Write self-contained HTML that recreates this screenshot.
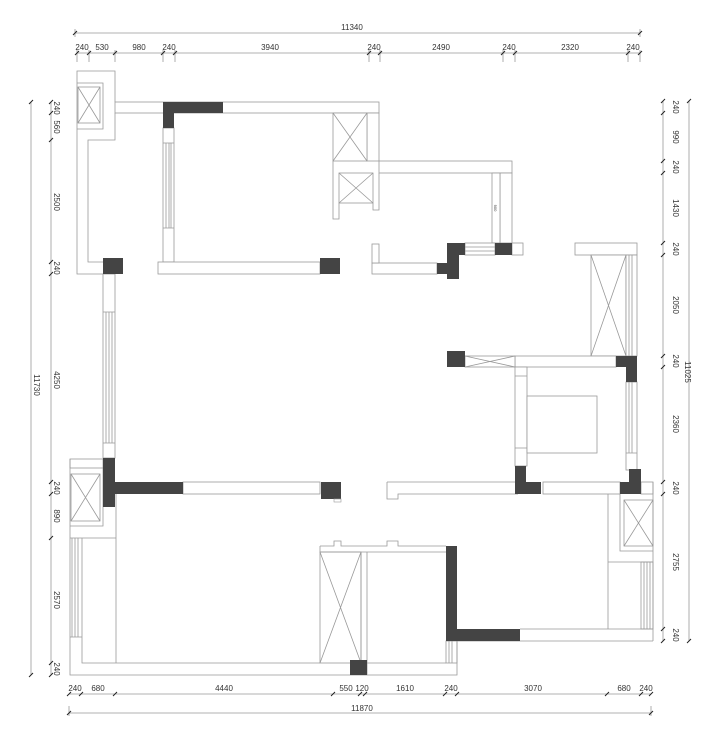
<!DOCTYPE html>
<html><head><meta charset="utf-8"><style>
html,body{margin:0;padding:0;background:#fff;}
svg{display:block;}
text{font-family:"Liberation Sans",sans-serif;font-size:8px;fill:#333;}
</style></head><body>
<svg width="720" height="739" viewBox="0 0 720 739" xmlns="http://www.w3.org/2000/svg">
<defs>
<g id="t"><line x1="-2" y1="2" x2="2" y2="-2" stroke="#222" stroke-width="1"/></g>
</defs>
<g stroke="#999" stroke-width="0.8" fill="none">
<!-- dimension lines -->
<line x1="75" y1="33" x2="640" y2="33"/>
<line x1="75" y1="29" x2="75" y2="37"/><line x1="640" y1="29" x2="640" y2="37"/>
<line x1="77" y1="53" x2="640" y2="53"/>
<g>
<line x1="77" y1="50" x2="77" y2="62"/><line x1="89" y1="50" x2="89" y2="62"/><line x1="115" y1="50" x2="115" y2="62"/>
<line x1="163" y1="50" x2="163" y2="62"/><line x1="175" y1="50" x2="175" y2="62"/><line x1="369" y1="50" x2="369" y2="62"/>
<line x1="380" y1="50" x2="380" y2="62"/><line x1="503" y1="50" x2="503" y2="62"/><line x1="515" y1="50" x2="515" y2="62"/>
<line x1="628" y1="50" x2="628" y2="62"/><line x1="640" y1="50" x2="640" y2="62"/>
</g>
<line x1="69" y1="694" x2="651" y2="694"/>
<line x1="69" y1="713" x2="651" y2="713"/>
<line x1="69" y1="706" x2="69" y2="716"/><line x1="651" y1="706" x2="651" y2="716"/>
<line x1="663" y1="101" x2="663" y2="641"/>
<line x1="689" y1="101" x2="689" y2="641"/>
<line x1="51" y1="102" x2="51" y2="675"/>
<line x1="31" y1="102" x2="31" y2="675"/>
</g>
<g>
<use href="#t" x="75" y="33"/><use href="#t" x="640" y="33"/>
<use href="#t" x="77" y="53"/><use href="#t" x="89" y="53"/><use href="#t" x="115" y="53"/><use href="#t" x="163" y="53"/><use href="#t" x="175" y="53"/><use href="#t" x="369" y="53"/><use href="#t" x="380" y="53"/><use href="#t" x="503" y="53"/><use href="#t" x="515" y="53"/><use href="#t" x="628" y="53"/><use href="#t" x="640" y="53"/>
<use href="#t" x="69" y="694"/><use href="#t" x="81" y="694"/><use href="#t" x="115" y="694"/><use href="#t" x="333" y="694"/><use href="#t" x="360" y="694"/><use href="#t" x="365" y="694"/><use href="#t" x="445" y="694"/><use href="#t" x="457" y="694"/><use href="#t" x="607" y="694"/><use href="#t" x="641" y="694"/><use href="#t" x="651" y="694"/>
<use href="#t" x="69" y="713"/><use href="#t" x="651" y="713"/>
<use href="#t" x="663" y="101"/><use href="#t" x="663" y="113"/><use href="#t" x="663" y="161"/><use href="#t" x="663" y="173"/><use href="#t" x="663" y="243"/><use href="#t" x="663" y="255"/><use href="#t" x="663" y="356"/><use href="#t" x="663" y="367"/><use href="#t" x="663" y="482"/><use href="#t" x="663" y="494"/><use href="#t" x="663" y="629"/><use href="#t" x="663" y="641"/>
<use href="#t" x="689" y="101"/><use href="#t" x="689" y="641"/>
<use href="#t" x="51" y="102"/><use href="#t" x="51" y="113"/><use href="#t" x="51" y="140"/><use href="#t" x="51" y="262"/><use href="#t" x="51" y="274"/><use href="#t" x="51" y="482"/><use href="#t" x="51" y="494"/><use href="#t" x="51" y="538"/><use href="#t" x="51" y="663"/><use href="#t" x="51" y="675"/>
<use href="#t" x="31" y="102"/><use href="#t" x="31" y="675"/>
</g>
<!-- dimension texts -->
<text x="352" y="30" text-anchor="middle">11340</text>
<text x="82" y="50" text-anchor="middle">240</text><text x="102" y="50" text-anchor="middle">530</text><text x="139" y="50" text-anchor="middle">980</text><text x="169" y="50" text-anchor="middle">240</text><text x="270" y="50" text-anchor="middle">3940</text><text x="374" y="50" text-anchor="middle">240</text><text x="441" y="50" text-anchor="middle">2490</text><text x="509" y="50" text-anchor="middle">240</text><text x="570" y="50" text-anchor="middle">2320</text><text x="633" y="50" text-anchor="middle">240</text>
<text x="75" y="691" text-anchor="middle">240</text><text x="98" y="691" text-anchor="middle">680</text><text x="224" y="691" text-anchor="middle">4440</text><text x="346" y="691" text-anchor="middle">550</text><text x="362" y="691" text-anchor="middle">120</text><text x="405" y="691" text-anchor="middle">1610</text><text x="451" y="691" text-anchor="middle">240</text><text x="533" y="691" text-anchor="middle">3070</text><text x="624" y="691" text-anchor="middle">680</text><text x="646" y="691" text-anchor="middle">240</text>
<text x="362" y="711" text-anchor="middle">11870</text>
<g>
<text transform="translate(673,107) rotate(90)" text-anchor="middle">240</text>
<text transform="translate(673,137) rotate(90)" text-anchor="middle">990</text>
<text transform="translate(673,167) rotate(90)" text-anchor="middle">240</text>
<text transform="translate(673,208) rotate(90)" text-anchor="middle">1430</text>
<text transform="translate(673,249) rotate(90)" text-anchor="middle">240</text>
<text transform="translate(673,305) rotate(90)" text-anchor="middle">2050</text>
<text transform="translate(673,361) rotate(90)" text-anchor="middle">240</text>
<text transform="translate(673,424) rotate(90)" text-anchor="middle">2360</text>
<text transform="translate(673,488) rotate(90)" text-anchor="middle">240</text>
<text transform="translate(673,562) rotate(90)" text-anchor="middle">2755</text>
<text transform="translate(673,635) rotate(90)" text-anchor="middle">240</text>
<text transform="translate(685,372) rotate(90)" text-anchor="middle">11025</text>
<text transform="translate(54,108) rotate(90)" text-anchor="middle">240</text>
<text transform="translate(54,127) rotate(90)" text-anchor="middle">560</text>
<text transform="translate(54,202) rotate(90)" text-anchor="middle">2500</text>
<text transform="translate(54,268) rotate(90)" text-anchor="middle">240</text>
<text transform="translate(54,380) rotate(90)" text-anchor="middle">4250</text>
<text transform="translate(54,488) rotate(90)" text-anchor="middle">240</text>
<text transform="translate(54,516) rotate(90)" text-anchor="middle">890</text>
<text transform="translate(54,600) rotate(90)" text-anchor="middle">2570</text>
<text transform="translate(54,669) rotate(90)" text-anchor="middle">240</text>
<text transform="translate(34,385) rotate(90)" text-anchor="middle">11730</text>
</g>

<!-- plan -->
<g stroke="#999" stroke-width="0.8" fill="#fff">
<rect x="115" y="102" width="264" height="11"/>
<rect x="367" y="113" width="12" height="48"/>
<rect x="379" y="161" width="133" height="12"/>
<rect x="500" y="173" width="12" height="70"/>
<rect x="492" y="173" width="8" height="70"/>
<rect x="333" y="113" width="34" height="48"/>
<rect x="339" y="173" width="34" height="30"/>
<rect x="163" y="128" width="11" height="134"/>
<rect x="158" y="262" width="162" height="12"/>
<rect x="103" y="274" width="12" height="184"/>
<rect x="183" y="482" width="137" height="12"/>
<rect x="70" y="459" width="33" height="9"/>
<rect x="71" y="474" width="29" height="47"/>
<rect x="78" y="87" width="22" height="36"/>
<rect x="372" y="263" width="65" height="11"/>
<rect x="372" y="244" width="7" height="19"/>
<rect x="465" y="243" width="30" height="12"/>
<rect x="512" y="243" width="11" height="12"/>
<rect x="575" y="243" width="62" height="12"/>
<rect x="591" y="255" width="35" height="101"/>
<rect x="626" y="255" width="11" height="101"/>
<rect x="515" y="356" width="101" height="11"/>
<rect x="465" y="356" width="50" height="11"/>
<rect x="515" y="367" width="12" height="99"/>
<rect x="527" y="396" width="70" height="57"/>
<rect x="626" y="382" width="11" height="88"/>
<rect x="543" y="482" width="77" height="12"/>
<rect x="641" y="482" width="12" height="12"/>
<rect x="624" y="500" width="29" height="46"/>
<rect x="641" y="562" width="12" height="67"/>
<rect x="320" y="552" width="41" height="111"/>
<rect x="446" y="641" width="11" height="22"/>
</g>
<g stroke="#999" stroke-width="0.8" fill="none">
<!-- X crosses -->
<path d="M333,113 L367,161 M367,113 L333,161"/>
<path d="M339,173 L373,203 M373,173 L339,203"/>
<path d="M78,87 L100,123 M100,87 L78,123"/>
<path d="M71,474 L100,521 M100,474 L71,521"/>
<path d="M591,255 L626,356 M626,255 L591,356"/>
<path d="M465,356 L515,367 M515,356 L465,367"/>
<path d="M624,500 L653,546 M653,500 L624,546"/>
<path d="M320,552 L361,663 M361,552 L320,663"/>
<!-- small shafts lines -->
<path d="M333,161 V219 H339 V203 M373,203 V210 H379 V173"/>
<!-- top-left -->
<path d="M115,102 V71 H77 V274 H103"/>
<path d="M115,113 V140 H88 V262 H103"/>
<path d="M77,83 H103 V129 H77"/>
<!-- window lines -->
<path d="M166,143 V228 M169,143 V228 M171,143 V228 M163,143 H174 M163,228 H174"/>
<path d="M106,312 V443 M109,312 V443 M112,312 V443 M103,312 H115 M103,443 H115"/>
<path d="M465,247 H495 M465,251 H495"/>
<path d="M629,255 V356 M632,255 V356"/>
<path d="M629,382 V453 M632,382 V453 M626,453 H637"/>
<path d="M515,376 H527 M515,448 H527"/>
<path d="M644,562 V629 M647,562 V629 M650,562 V629"/>
<path d="M449,641 V663 M452,641 V663"/>
<!-- left bottom -->
<path d="M103,468 V526 H70 M70,459 V675 H457 V641 M70,538 H116 M82,538 V663 H320 M116,494 V663"/>
<path d="M72,538 V637 M75,538 V637 M78,538 V637 M70,637 H82"/>
<path d="M361,552 V675 M367,552 V675 M367,663 H446"/>
<path d="M320,546 H334 V541 H341 V546 H387 V541 H398 V546 H446 M320,546 V552 H446"/>
<!-- right bottom -->
<path d="M387,482 V499 H398 V494 H518 M387,482 H518"/>
<path d="M608,494 V629 M620,494 V551 H653 M608,562 H653 M520,629 H653 M457,641 H653 M653,482 V641"/>
</g>
<g fill="#444">
<rect x="163" y="102" width="60" height="11"/>
<rect x="163" y="113" width="11" height="15"/>
<rect x="320" y="258" width="20" height="16"/>
<rect x="103" y="258" width="20" height="16"/>
<rect x="103" y="458" width="12" height="49"/>
<rect x="115" y="482" width="68" height="12"/>
<rect x="321" y="482" width="20" height="17"/>
<rect x="495" y="243" width="17" height="12"/>
<rect x="447" y="243" width="18" height="12"/>
<rect x="447" y="255" width="12" height="24"/>
<rect x="437" y="263" width="10" height="11"/>
<rect x="616" y="356" width="21" height="11"/>
<rect x="626" y="367" width="11" height="15"/>
<rect x="447" y="351" width="18" height="16"/>
<rect x="515" y="466" width="11" height="28"/>
<rect x="526" y="482" width="15" height="12"/>
<rect x="620" y="482" width="21" height="12"/>
<rect x="629" y="469" width="12" height="13"/>
<rect x="446" y="546" width="11" height="95"/>
<rect x="457" y="629" width="63" height="12"/>
<rect x="350" y="660" width="17" height="15"/>
</g>
<rect x="334" y="499" width="7" height="3" fill="#fff" stroke="#999" stroke-width="0.6"/>
<text transform="translate(494,208) rotate(90)" text-anchor="middle" style="font-size:4px">900</text>
</svg>
</body></html>
